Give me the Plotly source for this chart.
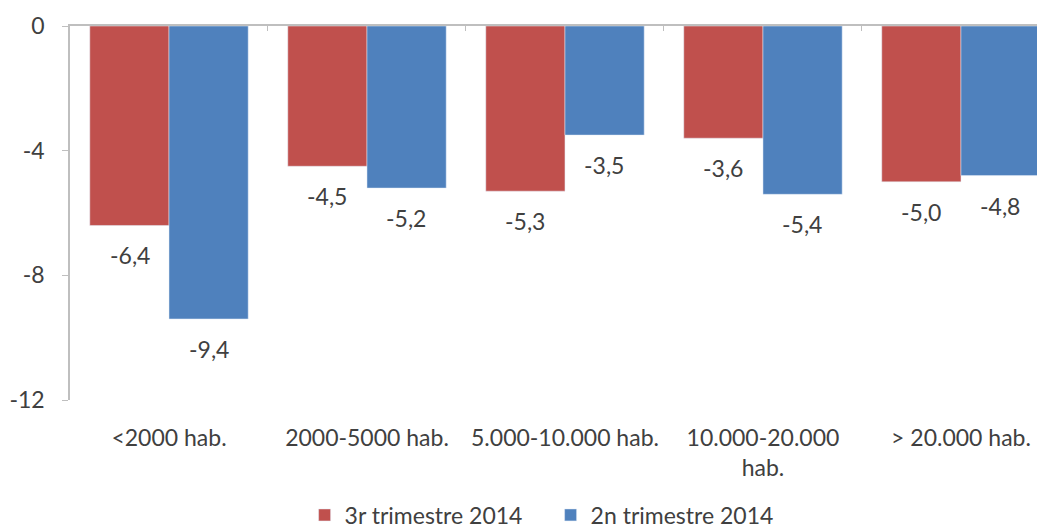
import plotly.graph_objects as go

categories = ["<2000 hab.", "2000-5000 hab.", "5.000-10.000 hab.", "10.000-20.000<br>hab.", "> 20.000 hab."]
series_3r = [-6.4, -4.5, -5.3, -3.6, -5.0]
series_2n = [-9.4, -5.2, -3.5, -5.4, -4.8]
name_3r = "3r trimestre 2014"
name_2n = "2n trimestre 2014"
y_ticks = [0, -4, -8, -12]

FONT = "Lato"
FS = 23
TXT = "#404040"
AX = "#BFBFBF"
C3 = "#C0504D"
C2 = "#4F81BD"

fig = go.Figure()
fig.add_trace(go.Bar(x=categories, y=series_3r, name=name_3r, marker_color=C3))
fig.add_trace(go.Bar(x=categories, y=series_2n, name=name_2n, marker_color=C2))
# invisible trace to carry the top (zero-line) axis with boundary ticks
fig.add_trace(go.Scatter(x=categories, y=[0]*len(categories), xaxis="x2", mode="markers",
                         marker=dict(opacity=0), showlegend=False, hoverinfo="skip"))

# data labels below each bar end
for vals, dx in ((series_3r, -39.5), (series_2n, 39.5)):
    for c, v in zip(categories, vals):
        fig.add_annotation(x=c, y=v, xref="x", yref="y", text=f"{v:.1f}".replace(".", ","),
                           showarrow=False, xshift=dx, yshift=-30,
                           font=dict(family=FONT, size=FS, color=TXT))

xr = [-0.5, 4.384]
fig.update_layout(
    width=1037, height=531,
    margin=dict(l=70, r=0, t=26, b=131, autoexpand=False),
    plot_bgcolor="white", paper_bgcolor="white",
    separators=",.",
    barmode="group", bargap=0.2, bargroupgap=0,
    font=dict(family=FONT, size=FS, color=TXT),
    xaxis=dict(type="category", range=xr, showline=False, ticks="", showgrid=False,
               automargin=False, ticklabelstandoff=22,
               tickfont=dict(family=FONT, size=FS, color=TXT)),
    xaxis2=dict(type="category", range=xr, overlaying="x", side="top", anchor="y",
                showline=True, linecolor=AX, linewidth=1.5, ticks="inside", ticklen=5,
                tickcolor=AX, tickson="boundaries", showticklabels=False, showgrid=False,
                automargin=False),
    yaxis=dict(range=[-12, 0], tickvals=y_ticks, ticktext=[str(v) for v in y_ticks],
               showline=True, linecolor=AX, linewidth=1.5, ticks="outside", ticklen=6,
               tickcolor=AX, showgrid=False, zeroline=False, ticklabelstandoff=13,
               automargin=False, tickfont=dict(family=FONT, size=FS, color=TXT)),
    legend=dict(orientation="h", x=0.497, xanchor="center", y=16 / 531, yref="container",
                yanchor="middle",
                font=dict(family=FONT, size=FS, color=TXT), itemwidth=30,
                entrywidthmode="pixels", entrywidth=201),
)
fig.write_html("out.html", config={"displayModeBar": False},
               post_script="document.body.style.margin='0';")
